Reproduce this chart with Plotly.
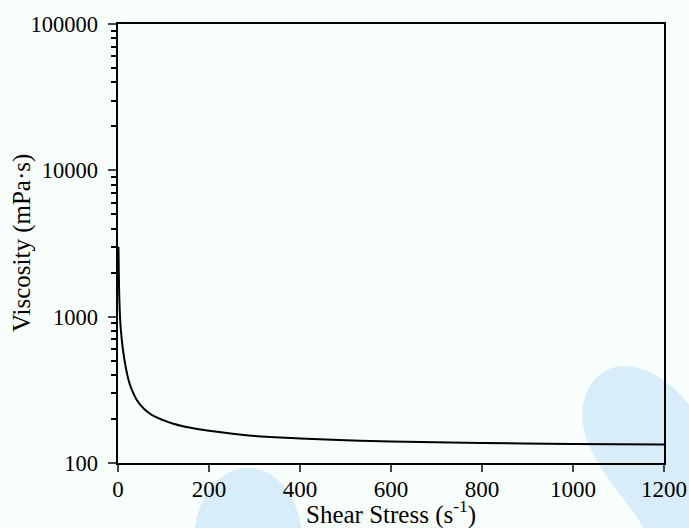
import plotly.graph_objects as go

# Data
shear = [1, 2, 3, 5, 8, 11, 16, 23, 30, 40, 50, 66, 80, 100, 120, 150, 200, 300, 400, 500, 600, 800, 1000, 1200]
viscosity = [3000, 1800, 1300, 920, 710, 590, 470, 370, 318, 274, 248, 222, 208, 196, 186, 176, 166, 153, 147, 143, 140, 137, 135, 134]

x_ticks = [0, 200, 400, 600, 800, 1000, 1200]
y_ticks = [100, 1000, 10000, 100000]
y_tick_text = ["100", "1000", "10000", "100000"]
y_minor = [m * d for d in (100, 1000, 10000) for m in range(2, 10)]

FONT = "Liberation Serif, Times New Roman, serif"
BG = "#f8fefb"
BLOB = "#d7eefa"
NBSP = "\u00a0"

W, H = 689, 528
L, R, T, B = 118, 25, 24, 65
PW, PH = W - L - R, H - T - B


def px(x, y):
    return (x - L) / PW, (H - B - y) / PH


def path(points):
    out = []
    for cmd, pts in points:
        s = cmd
        for (a, b) in pts:
            u, v = px(a, b)
            s += f" {u:.4f},{v:.4f}"
        out.append(s)
    return " ".join(out) + " Z"


fig = go.Figure()
fig.add_trace(go.Scatter(x=shear, y=viscosity, mode="lines",
                         line=dict(color="black", width=2, shape="spline", smoothing=1.0),
                         showlegend=False))

# faint watermark blobs
x0, y0 = px(194, 468)
x1, y1 = px(302, 612)
fig.add_shape(type="circle", xref="paper", yref="paper", x0=x0, y0=y0, x1=x1, y1=y1,
              fillcolor=BLOB, line_width=0, layer="below")
fig.add_shape(type="path", xref="paper", yref="paper", layer="below", fillcolor=BLOB, line_width=0,
              path=path([("M", [(583, 425)]),
                         ("C", [(578, 390), (600, 365), (625, 366)]),
                         ("C", [(650, 367), (672, 382), (695, 412)]),
                         ("L", [(695, 535)]),
                         ("L", [(648, 535)]),
                         ("C", [(625, 495), (590, 465), (583, 425)])]))

# axis titles placed as annotations for precise positioning
tx, ty = px(391, 512)
fig.add_annotation(text="Shear Stress (s<sup>-1</sup>)", xref="paper", yref="paper",
                   x=tx, y=ty, xanchor="center", yanchor="middle", showarrow=False,
                   font=dict(family=FONT, size=25, color="black"))
vx, vy = px(22, 243)
fig.add_annotation(text="Viscosity (mPa·s)", xref="paper", yref="paper",
                   x=vx, y=vy, xanchor="center", yanchor="middle", textangle=-90, showarrow=False,
                   font=dict(family=FONT, size=25, color="black"))

fig.update_layout(
    width=W, height=H,
    margin=dict(l=L, r=R, t=T, b=B, autoexpand=False),
    paper_bgcolor=BG, plot_bgcolor="rgba(0,0,0,0)",
    font=dict(family=FONT, size=23, color="black"),
)
fig.update_xaxes(
    range=[0, 1200], tickvals=x_ticks, ticks="outside", ticklen=7, tickwidth=2,
    ticklabelstandoff=-3,
    showline=True, linewidth=2, linecolor="black", mirror=True,
    showgrid=False, zeroline=False, automargin=False,
)
fig.update_yaxes(
    type="log", range=[2, 5], tickvals=y_ticks, ticktext=[t + NBSP for t in y_tick_text],
    ticks="outside", ticklen=8, tickwidth=2,
    tickfont=dict(size=22.5),
    minor=dict(tickvals=y_minor, ticks="outside", ticklen=5, tickwidth=1.5, tickcolor="black", showgrid=False),
    showline=True, linewidth=2, linecolor="black", mirror=True,
    showgrid=False, zeroline=False, automargin=False,
)

fig.write_html("out.html")
